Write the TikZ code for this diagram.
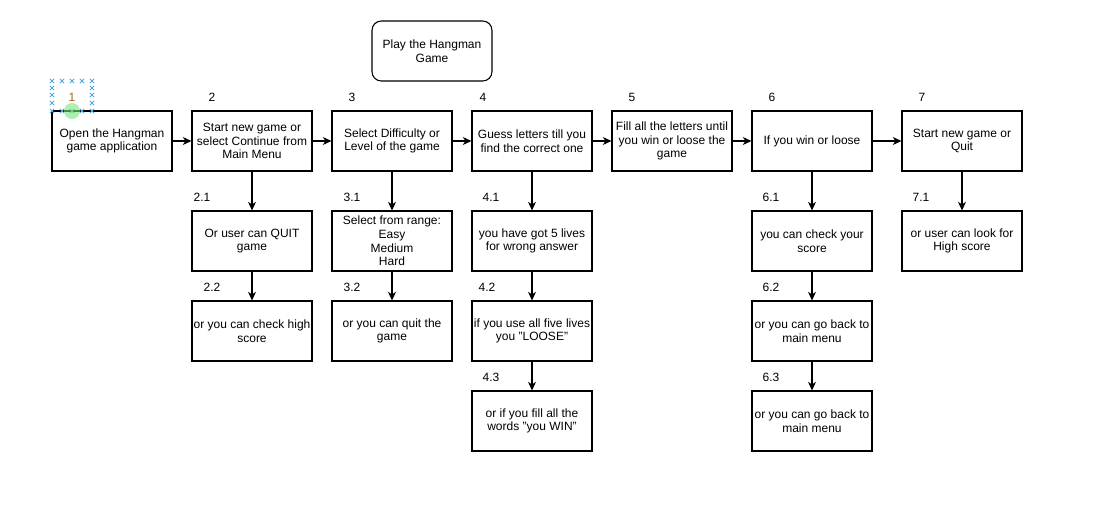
\documentclass[tikz,border=0pt]{standalone}
\usepackage{fontspec}
\setmainfont{Liberation Sans}
\usetikzlibrary{arrows.meta}
\definecolor{selblue}{RGB}{80,170,225}
\definecolor{selgreen}{RGB}{120,230,120}
\definecolor{numorange}{RGB}{170,100,20}
\begin{document}
\begin{tikzpicture}[x=0.75pt,y=-0.75pt,
  stepbox/.style={draw, line width=0.8pt, minimum width=90pt, minimum height=45pt,
    inner sep=0pt, align=center, font=\fontsize{9}{10.3}\selectfont},
  roundbox/.style={stepbox, rounded corners=7pt},
  lbl/.style={inner sep=0pt, font=\fontsize{9}{10.3}\selectfont},
  arr/.style={line width=0.8pt, -{Stealth[length=6.5pt,width=6pt,inset=2pt]}},
  selx/.style={selblue, line width=0.6pt}
]
\useasboundingbox (0,0) rectangle (1097,506);
\fill[white] (0,0) rectangle (1097,506);

% title box
\node[roundbox] (play) at (432,51) {Play the Hangman\\Game};

% row 1
\node[stepbox] (s1) at (112,141) {Open the Hangman\\game application};
\node[stepbox] (s2) at (252,141) {Start new game or\\select Continue from\\Main Menu};
\node[stepbox] (s3) at (392,141) {Select Difficulty or\\Level of the game};
\node[stepbox] (s4) at (532,141) {Guess letters till you\\find the correct one};
\node[stepbox] (s5) at (672,141) {Fill all the letters until\\you win or loose the\\game};
\node[stepbox] (s6) at (812,141) {If you win or loose};
\node[stepbox] (s7) at (962,141) {Start new game or\\Quit};

% sub boxes
\node[stepbox] (s21) at (252,241) {Or user can QUIT\\game};
\node[stepbox] (s22) at (252,331) {or you can check high\\score};
\node[stepbox] (s31) at (392,241) {Select from range:\\Easy\\Medium\\Hard};
\node[stepbox] (s32) at (392,331) {or you can quit the\\game};
\node[stepbox] (s41) at (532,241) {you have got 5 lives\\for wrong answer};
\node[stepbox] (s42) at (532,331) {if you use all five lives\\you "LOOSE"};
\node[stepbox] (s43) at (532,421) {or if you fill all the\\words "you WIN"};
\node[stepbox] (s61) at (812,241) {you can check your\\score};
\node[stepbox] (s62) at (812,331) {or you can go back to\\main menu};
\node[stepbox] (s63) at (812,421) {or you can go back to\\main menu};
\node[stepbox] (s71) at (962,241) {or user can look for\\High score};

% number labels
\node[lbl, text=numorange] (n1) at (72,97) {1};
\node[lbl] (n2) at (212,97) {2};
\node[lbl] (n3) at (352,97) {3};
\node[lbl] (n4) at (483,97) {4};
\node[lbl] (n5) at (632,97) {5};
\node[lbl] (n6) at (772,97) {6};
\node[lbl] (n7) at (922,97) {7};
\node[lbl] (n21) at (202,197) {2.1};
\node[lbl] (n22) at (212,287) {2.2};
\node[lbl] (n31) at (352,197) {3.1};
\node[lbl] (n32) at (352,287) {3.2};
\node[lbl] (n41) at (491,197) {4.1};
\node[lbl] (n42) at (487,287) {4.2};
\node[lbl] (n43) at (491,377) {4.3};
\node[lbl] (n61) at (771,197) {6.1};
\node[lbl] (n62) at (771,287) {6.2};
\node[lbl] (n63) at (771,377) {6.3};
\node[lbl] (n71) at (921,197) {7.1};

% connectors
\draw[arr] (s1) -- (s2);
\draw[arr] (s2) -- (s3);
\draw[arr] (s3) -- (s4);
\draw[arr] (s4) -- (s5);
\draw[arr] (s5) -- (s6);
\draw[arr] (s6) -- (s7);
\draw[arr] (s2) -- (s21);
\draw[arr] (s21) -- (s22);
\draw[arr] (s3) -- (s31);
\draw[arr] (s31) -- (s32);
\draw[arr] (s4) -- (s41);
\draw[arr] (s41) -- (s42);
\draw[arr] (s42) -- (s43);
\draw[arr] (s6) -- (s61);
\draw[arr] (s61) -- (s62);
\draw[arr] (s62) -- (s63);
\draw[arr] (s7) -- (s71);

% selection handles around label 1
\foreach \px in {52,62,72,82,92} {
  \foreach \py in {81,111} {
    \draw[selx] (\px-2.2,\py-2.2) -- (\px+2.2,\py+2.2) (\px-2.2,\py+2.2) -- (\px+2.2,\py-2.2);
  }
}
\foreach \px in {52,92} {
  \foreach \py in {88,95,103} {
    \draw[selx] (\px-2.2,\py-2.2) -- (\px+2.2,\py+2.2) (\px-2.2,\py+2.2) -- (\px+2.2,\py-2.2);
  }
}
\fill[selgreen, opacity=0.6] (72,111) circle[radius=8];
\end{tikzpicture}
\end{document}
